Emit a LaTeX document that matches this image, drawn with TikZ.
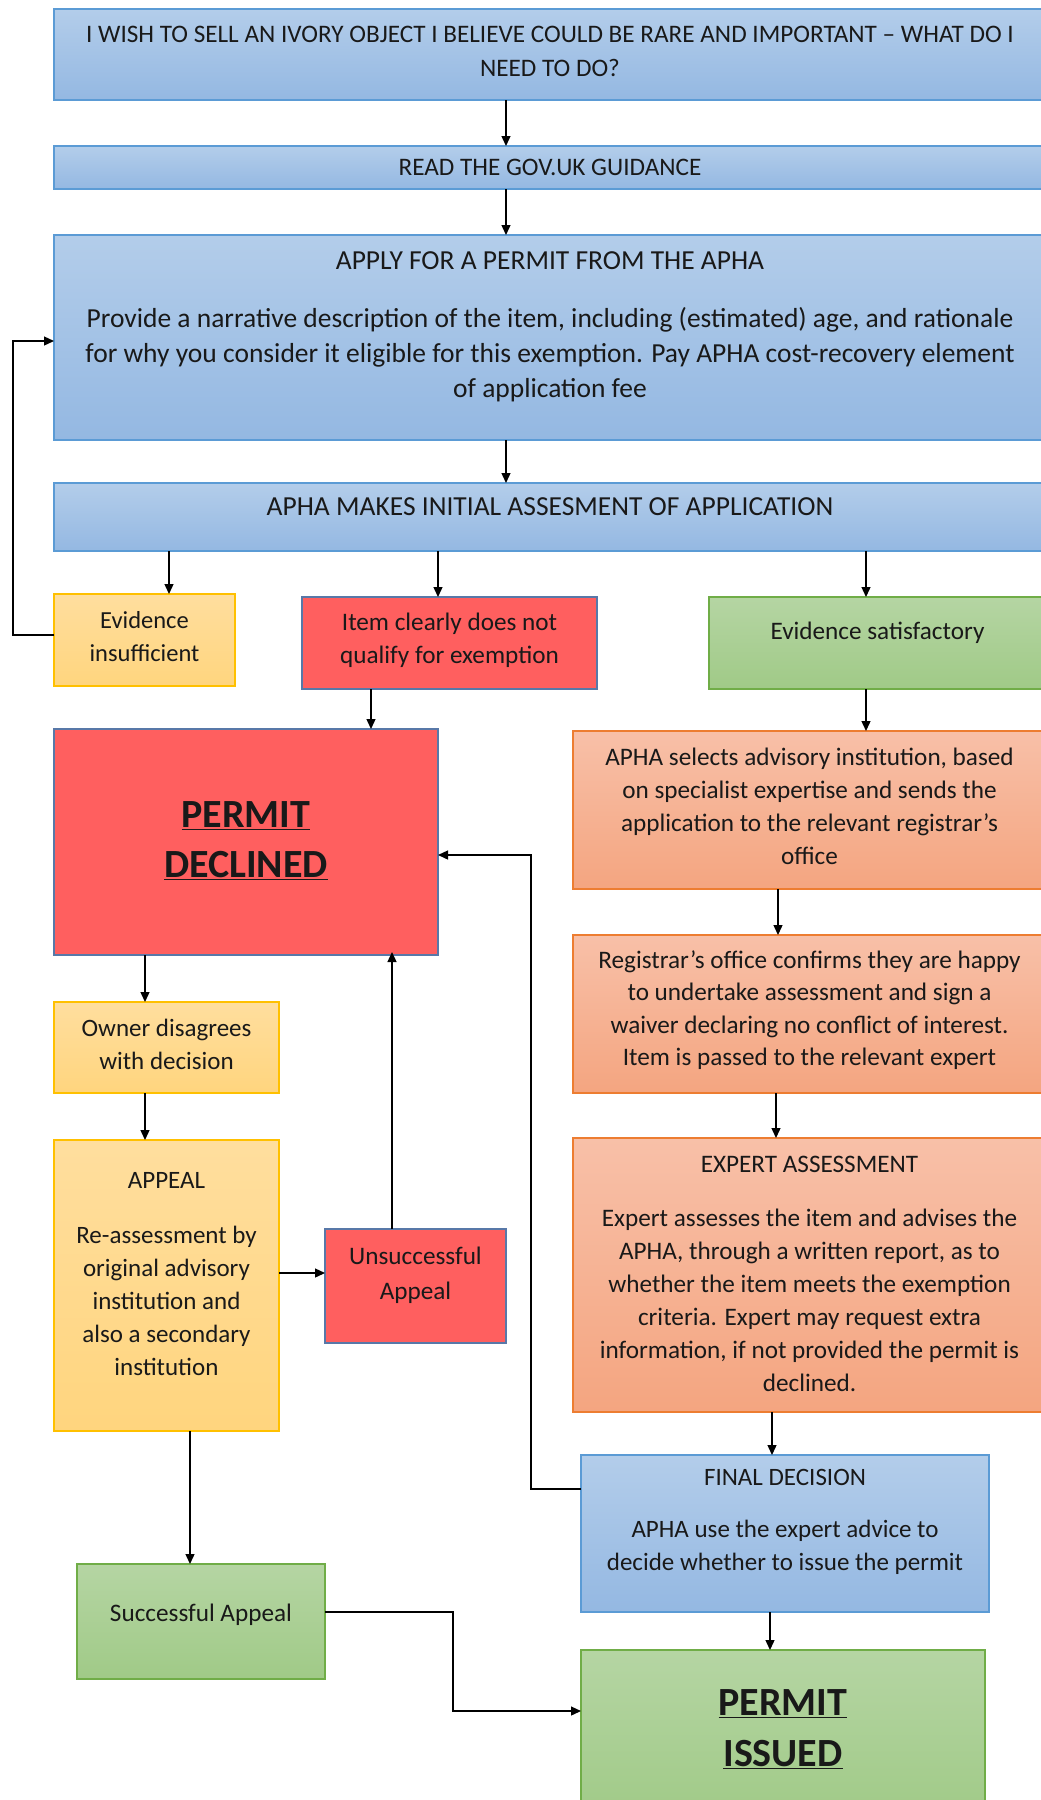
\documentclass[tikz,border=0pt]{standalone}
\usepackage{fontspec}
\setmainfont{Carlito}
\newfontfamily\fnorm{Carlito}
\usetikzlibrary{arrows.meta}
\definecolor{bluetop}{HTML}{B3CDEA}
\definecolor{bluebot}{HTML}{94B8E2}
\definecolor{blueedge}{HTML}{5B9BD5}
\definecolor{yeltop}{HTML}{FFDE9E}
\definecolor{yelbot}{HTML}{FFD57E}
\definecolor{yeledge}{HTML}{FFC000}
\definecolor{redfill}{HTML}{FF5F5F}
\definecolor{rededge}{HTML}{5878A8}
\definecolor{grntop}{HTML}{B5D5A3}
\definecolor{grnbot}{HTML}{A0CA87}
\definecolor{grnedge}{HTML}{70AD47}
\definecolor{ortop}{HTML}{F8C0A8}
\definecolor{orbot}{HTML}{F4A580}
\definecolor{oredge}{HTML}{ED7D31}
\tikzset{
  box/.style={rectangle, line width=1.3pt, inner sep=0pt, outer sep=0pt},
  bluebox/.style={box, draw=blueedge, top color=bluetop, bottom color=bluebot},
  yelbox/.style={box, draw=yeledge, top color=yeltop, bottom color=yelbot},
  redbox/.style={box, draw=rededge, fill=redfill},
  grnbox/.style={box, draw=grnedge, top color=grntop, bottom color=grnbot},
  orbox/.style={box, draw=oredge, top color=ortop, bottom color=orbot},
  lbl/.style={inner sep=0pt, align=center, text=black!90},
  arr/.style={-{Triangle[length=10pt,width=9pt]}, line width=1.3pt},
}
\begin{document}
\begin{tikzpicture}[x=1pt,y=-1pt]
\useasboundingbox (0,0) rectangle (1041,1800);
\clip (0,0) rectangle (1041,1800);
% boxes
\node[bluebox, minimum width=992pt, minimum height=91pt] (b1) at (550,54.5) {};
\node[bluebox, minimum width=992pt, minimum height=43pt] (b2) at (550,167.5) {};
\node[bluebox, minimum width=992pt, minimum height=205pt] (b3) at (550,337.5) {};
\node[bluebox, minimum width=992pt, minimum height=68pt] (b4) at (550,517) {};
\node[yelbox, minimum width=181pt, minimum height=92pt] (evins) at (144.5,640) {};
\node[redbox, minimum width=295pt, minimum height=92pt] (item) at (449.5,643) {};
\node[grnbox, minimum width=337pt, minimum height=92pt] (evsat) at (877.5,643) {};
\node[redbox, minimum width=384pt, minimum height=226pt] (decl) at (246,842) {};
\node[orbox, minimum width=473pt, minimum height=158pt] (sel) at (809.5,810) {};
\node[orbox, minimum width=473pt, minimum height=158pt] (reg) at (809.5,1014) {};
\node[orbox, minimum width=473pt, minimum height=274pt] (exp) at (809.5,1275) {};
\node[bluebox, minimum width=408pt, minimum height=157pt] (fin) at (785,1533.5) {};
\node[grnbox, minimum width=404pt, minimum height=170pt] (iss) at (783,1735) {};
\node[yelbox, minimum width=225pt, minimum height=91pt] (own) at (166.5,1047.5) {};
\node[yelbox, minimum width=225pt, minimum height=291pt] (app) at (166.5,1285.5) {};
\node[redbox, minimum width=181pt, minimum height=114pt] (uns) at (415.5,1286) {};
\node[grnbox, minimum width=248pt, minimum height=115pt] (suc) at (201,1621.5) {};
% texts
\node[lbl, font=\fnorm\fontsize{25.2}{34}\selectfont] (t1) at (550,51) {I WISH TO SELL AN IVORY OBJECT I BELIEVE COULD BE RARE AND IMPORTANT – WHAT DO I\\NEED TO DO?};
\node[lbl, font=\fnorm\fontsize{25.2}{34}\selectfont] (t2) at (550,167.5) {READ THE GOV.UK GUIDANCE};
\node[lbl, font=\fnorm\fontsize{27.5}{35}\selectfont] (t3a) at (550,261) {APPLY FOR A PERMIT FROM THE APHA};
\node[lbl, font=\fnorm\fontsize{27.5}{35}\selectfont] (t3b) at (550,355) {Provide a narrative description of the item, including (estimated) age, and rationale\\for why you consider it eligible for this exemption. Pay APHA cost-recovery element\\of application fee};
\node[lbl, font=\fnorm\fontsize{27.5}{34}\selectfont] (t4) at (550,507) {APHA MAKES INITIAL ASSESMENT OF APPLICATION};
\node[lbl, font=\fnorm\fontsize{24.5}{33}\selectfont] (tevins) at (144.5,637) {Evidence\\insufficient};
\node[lbl, font=\fnorm\fontsize{25.2}{33}\selectfont] (titem) at (449.5,640) {Item clearly does not\\qualify for exemption};
\node[lbl, font=\fnorm\fontsize{25.2}{33}\selectfont] (tevsat) at (877.5,633) {Evidence satisfactory};
\node[lbl, font=\fnorm\bfseries\fontsize{40}{50}\selectfont] (tdecl) at (246,841) {\underline{PERMIT}\\\underline{DECLINED}};
\node[lbl, font=\fnorm\fontsize{25.2}{33}\selectfont] (tsel) at (809.5,806) {APHA selects advisory institution, based\\on specialist expertise and sends the\\application to the relevant registrar’s\\office};
\node[lbl, font=\fnorm\fontsize{25.2}{32.5}\selectfont] (treg) at (809.5,1010) {Registrar’s office confirms they are happy\\to undertake assessment and sign a\\waiver declaring no conflict of interest.\\Item is passed to the relevant expert};
\node[lbl, font=\fnorm\fontsize{25.2}{33}\selectfont] (texpa) at (809.5,1164.5) {EXPERT ASSESSMENT};
\node[lbl, font=\fnorm\fontsize{25.2}{33}\selectfont] (texpb) at (809.5,1300) {Expert assesses the item and advises the\\APHA, through a written report, as to\\whether the item meets the exemption\\criteria. Expert may request extra\\information, if not provided the permit is\\declined.};
\node[lbl, font=\fnorm\fontsize{25}{33}\selectfont] (tfina) at (785,1477.5) {FINAL DECISION};
\node[lbl, font=\fnorm\fontsize{25}{33}\selectfont] (tfinb) at (785,1547) {APHA use the expert advice to\\decide whether to issue the permit};
\node[lbl, font=\fnorm\bfseries\fontsize{40}{51}\selectfont] (tiss) at (783,1729) {\underline{PERMIT}\\\underline{ISSUED}};
\node[lbl, font=\fnorm\fontsize{25}{33}\selectfont] (town) at (166.5,1044) {Owner disagrees\\with decision};
\node[lbl, font=\fnorm\fontsize{25}{33}\selectfont] (tappa) at (166.5,1180.5) {APPEAL};
\node[lbl, font=\fnorm\fontsize{25}{33}\selectfont] (tappb) at (166.5,1300.5) {Re-assessment by\\original advisory\\institution and\\also a secondary\\institution};
\node[lbl, font=\fnorm\fontsize{25.2}{35}\selectfont] (tuns) at (415.5,1275) {Unsuccessful\\Appeal};
\node[lbl, font=\fnorm\fontsize{25.2}{33}\selectfont] (tsuc) at (201,1614.5) {Successful Appeal};
% guide coordinates
\coordinate (x506) at (506,0);
\coordinate (x169) at (169,0);
\coordinate (x438) at (438,0);
\coordinate (x866) at (866,0);
\coordinate (x371) at (371,0);
\coordinate (x778) at (778,0);
\coordinate (x776) at (776,0);
\coordinate (x772) at (772,0);
\coordinate (x770) at (770,0);
\coordinate (x145) at (145,0);
\coordinate (x190) at (190,0);
\coordinate (x392) at (392,0);
\coordinate (loopL) at (13,635);
\coordinate (loopR) at (531,1489);
\coordinate (sucT) at (453,1612);
% connectors
\draw[arr] (b1.south -| x506) -- (b2.north -| x506);
\draw[arr] (b2.south -| x506) -- (b3.north -| x506);
\draw[arr] (b3.south -| x506) -- (b4.north -| x506);
\draw[arr] (b4.south -| x169) -- (evins.north -| x169);
\draw[arr] (b4.south -| x438) -- (item.north -| x438);
\draw[arr] (b4.south -| x866) -- (evsat.north -| x866);
\draw[arr] (evins.west |- loopL) -- (loopL) |- (b3.west |- 0,341);
\draw[arr] (item.south -| x371) -- (decl.north -| x371);
\draw[arr] (evsat.south -| x866) -- (sel.north -| x866);
\draw[arr] (sel.south -| x778) -- (reg.north -| x778);
\draw[arr] (reg.south -| x776) -- (exp.north -| x776);
\draw[arr] (exp.south -| x772) -- (fin.north -| x772);
\draw[arr] (fin.south -| x770) -- (iss.north -| x770);
\draw[arr] (fin.west |- loopR) -- (loopR) |- (decl.east |- 0,855);
\draw[arr] (decl.south -| x145) -- (own.north -| x145);
\draw[arr] (own.south -| x145) -- (app.north -| x145);
\draw[arr] (app.east |- 0,1273) -- (uns.west |- 0,1273);
\draw[arr] (uns.north -| x392) -- ([yshift=3pt]decl.south -| x392);
\draw[arr] (app.south -| x190) -- (suc.north -| x190);
\draw[arr] (suc.east |- sucT) -- (sucT) |- (iss.west |- 0,1711);
\end{tikzpicture}
\end{document}
